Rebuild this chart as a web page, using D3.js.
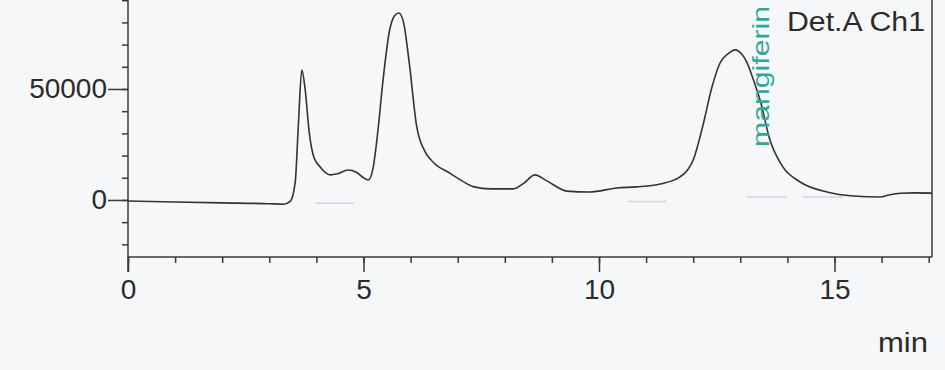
<!DOCTYPE html>
<html>
<head>
<meta charset="utf-8">
<script src="https://cdn.jsdelivr.net/npm/d3@7"></script>
<style>
  body { margin: 0; background: #f6f7f9; }
  text { font-family: "Liberation Sans", Arial, sans-serif; fill: #2b2b2b; }
</style>
</head>
<body>
<div id="canvas"></div>
<script>
const width = 945;
const height = 370;

// retention time (min) and detector signal (uV)
const times = [0, 1, 2, 3, 3.3, 3.45, 3.55, 3.62, 3.69, 3.76, 3.85, 3.95, 4.08, 4.2, 4.29, 4.45, 4.67, 4.85, 5.0, 5.1,
  5.2, 5.3, 5.42, 5.55, 5.66, 5.75, 5.85, 5.97, 6.13, 6.3, 6.48, 6.84, 7.1, 7.33, 7.7, 8.18, 8.4, 8.64, 8.9, 9.32,
  9.8, 10.38, 10.8, 11.3, 11.72, 11.88, 12.0, 12.2, 12.4, 12.57, 12.75, 12.89, 13.02, 13.14, 13.28, 13.42, 13.63,
  13.9, 14.27, 14.84, 15.4, 15.97, 16.15, 16.4, 16.7, 17.07];
const signal = [-500, -900, -1300, -1700, -1900, -500, 8000, 35000, 58500, 50000, 30000, 19000, 14900, 12200, 11300, 11800, 13500, 12500, 10000, 9000,
  14000, 30000, 55000, 76000, 83000, 84200, 80000, 62000, 33000, 22000, 17000, 12000, 8500, 6000, 5000, 5000, 7500, 11300, 8500, 4000,
  3600, 5400, 5900, 7200, 10400, 13500, 18000, 33000, 51000, 61700, 66000, 67600, 66000, 62000, 54000, 45000, 27000,
  15000, 8100, 3600, 1800, 1350, 2200, 3000, 3200, 3100];
const data = times.map((t, i) => ({ t: t, v: signal[i] }));

// faint integration baselines [start, end, level]
const baseStart = [3.98, 10.62, 13.14, 14.33];
const baseEnd = [4.8, 11.44, 13.99, 15.18];
const baseLevel = [-1500, -700, 1300, 1300];

const xMajor = [0, 5, 10, 15];
const xMinor = d3.range(0, 18, 1);
const yMajor = [0, 50000];
const yMinor = d3.range(-20000, 90001, 10000);

const margin = { left: 128, top: 0, right: 13, bottom: 113 };
const xScale = d3.scaleLinear().domain([0, 17.07]).range([margin.left, width - margin.right]);
const yScale = d3.scaleLinear().domain([-25700, 90090]).range([height - margin.bottom, margin.top]);

const svg = d3.select('#canvas').append('svg')
  .attr('width', width)
  .attr('height', height);

// frame right side
svg.append('line')
  .attr('x1', xScale(17.07)).attr('x2', xScale(17.07))
  .attr('y1', 0).attr('y2', yScale(-25700))
  .attr('stroke', '#3a3a3a').attr('stroke-width', 1.5);

const axisY = yScale(-25700);

// x axis: minor ticks
svg.append('g')
  .attr('transform', `translate(0,${axisY})`)
  .call(d3.axisBottom(xScale).tickValues(xMinor).tickSize(6).tickFormat(''))
  .call(g => g.select('.domain').remove());
// x axis: major ticks + labels
svg.append('g')
  .attr('transform', `translate(0,${axisY})`)
  .call(d3.axisBottom(xScale).tickValues(xMajor).tickSize(15).tickPadding(7).tickFormat(d3.format('d')))
  .call(g => g.select('.domain').attr('d', `M${xScale(0)},0H${xScale(17.07)}`))
  .call(g => g.selectAll('text').attr('font-size', 28).attr('fill', '#2b2b2b'));

// y axis: minor ticks
svg.append('g')
  .attr('transform', `translate(${margin.left},0)`)
  .call(d3.axisLeft(yScale).tickValues(yMinor).tickSize(6).tickFormat(''))
  .call(g => g.select('.domain').remove());
// y axis: major ticks + labels
svg.append('g')
  .attr('transform', `translate(${margin.left},0)`)
  .call(d3.axisLeft(yScale).tickValues(yMajor).tickSize(20).tickPadding(1).tickFormat(d3.format('d')))
  .call(g => g.select('.domain').attr('d', `M0,0V${axisY + 15}`))
  .call(g => g.selectAll('text').attr('font-size', 28).attr('fill', '#2b2b2b'));

svg.selectAll('.domain, .tick line').attr('stroke', '#3a3a3a').attr('stroke-width', 1.5);

// faint baselines
svg.append('g').selectAll('line')
  .data(baseStart)
  .join('line')
  .attr('x1', d => xScale(d))
  .attr('x2', (d, i) => xScale(baseEnd[i]))
  .attr('y1', (d, i) => yScale(baseLevel[i]))
  .attr('y2', (d, i) => yScale(baseLevel[i]))
  .attr('stroke', '#d3d6db').attr('stroke-width', 1.5);

// chromatogram trace
const line = d3.line()
  .x(d => xScale(d.t))
  .y(d => yScale(d.v))
  .curve(d3.curveMonotoneX);

svg.append('path')
  .attr('d', line(data))
  .attr('fill', 'none')
  .attr('stroke', '#333')
  .attr('stroke-width', 1.6);

// labels
svg.append('text')
  .attr('x', 787).attr('y', 31)
  .attr('font-size', 27)
  .attr('textLength', 138).attr('lengthAdjust', 'spacingAndGlyphs')
  .text('Det.A Ch1');

svg.append('text')
  .attr('transform', 'translate(769,147) rotate(-90)')
  .attr('font-size', 24)
  .attr('textLength', 141).attr('lengthAdjust', 'spacingAndGlyphs')
  .style('fill', '#2fa898')
  .text('mangiferin');

svg.append('text')
  .attr('x', 878).attr('y', 352)
  .attr('font-size', 27)
  .attr('textLength', 50).attr('lengthAdjust', 'spacingAndGlyphs')
  .text('min');
</script>
</body>
</html>
